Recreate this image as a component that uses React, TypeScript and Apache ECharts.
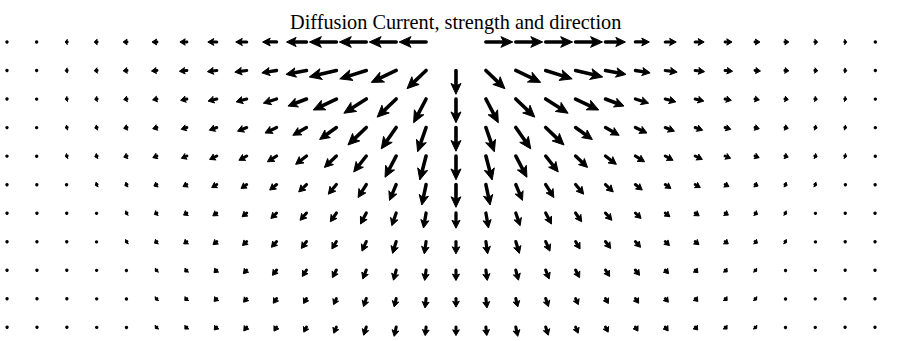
import React, { useEffect, useRef } from "react";
import * as echarts from "echarts";

// Horizontal grid positions (µm from the source) and depth positions.
const COLS = [
  -450, -420, -390, -360, -330, -300, -270, -240, -210, -180, -150, -120, -90, -60, -30,
  0, 30, 60, 90, 120, 150, 180, 210, 240, 270, 300, 330, 360, 390, 420,
];
const DEPTHS = [0, 30, 60, 90, 120, 150, 180, 210, 240, 270, 300];

// Current components per depth row (x component, then depth component).
const uRow0 = [-1, -1.5, -2, -3, -4, -5, -7, -9, -11, -14, -20, -27, -27, -27, -27, null, 27, 27, 27, 27, 20, 14, 11, 9, 7, 5, 4, 3, 2, 1.5];
const vRow0 = [0, 0, 0, 0, 0, 0, 0, 0, 0, 0, 0, 0, 0, 0, 0, null, 0, 0, 0, 0, 0, 0, 0, 0, 0, 0, 0, 0, 0, 0];
const uRow1 = [-1, -1.5, -2, -3, -4, -5.5, -7.5, -9.4, -11.9, -14.8, -20.6, -27.2, -26.6, -25, -19.1, 0, 19.1, 25, 26.6, 27.2, 20.6, 14.8, 11.9, 9.4, 7.5, 5.5, 4, 3, 2, 1.5];
const vRow1 = [0.07, 0.1, 0.15, 0.25, 0.36, 0.55, 0.8, 1.2, 1.7, 2.5, 4.1, 6.8, 8.8, 12.5, 19.1, 25, 19.1, 12.5, 8.8, 6.8, 4.1, 2.5, 1.7, 1.2, 0.8, 0.55, 0.36, 0.25, 0.15, 0.1];
const uRow2 = [-1, -1.5, -2, -2.5, -3.4, -4.4, -6.3, -8.7, -10.6, -13.3, -18.6, -23.2, -22.5, -19.1, -12.5, 0, 12.5, 19.1, 22.5, 23.2, 18.6, 13.3, 10.6, 8.7, 6.3, 4.4, 3.4, 2.5, 2, 1.5];
const vRow2 = [0.13, 0.2, 0.3, 0.4, 0.6, 0.9, 1.4, 2.2, 3, 4.4, 7.4, 11.6, 15, 19.1, 25, 25, 25, 19.1, 15, 11.6, 7.4, 4.4, 3, 2.2, 1.4, 0.9, 0.6, 0.4, 0.3, 0.2];
const uRow3 = [-1, -1.5, -1.9, -2.4, -3.4, -4.3, -5.7, -7.5, -9.2, -11.6, -13.7, -16.8, -18.4, -15, -8.5, 0, 8.5, 15, 18.4, 16.8, 13.7, 11.6, 9.2, 7.5, 5.7, 4.3, 3.4, 2.4, 1.9, 1.5];
const vRow3 = [0.2, 0.3, 0.45, 0.6, 0.9, 1.3, 1.9, 2.8, 3.9, 5.8, 8.2, 12.6, 18.4, 22.5, 25.6, 25, 25.6, 22.5, 18.4, 12.6, 8.2, 5.8, 3.9, 2.8, 1.9, 1.3, 0.9, 0.6, 0.45, 0.3];
const uRow4 = [-1, -1.4, -1.9, -2.4, -3.3, -4.2, -5.5, -7.2, -7.8, -9.2, -10.9, -12, -12.6, -11.2, -6.3, 0, 6.3, 11.2, 12.6, 12, 10.9, 9.2, 7.8, 7.2, 5.5, 4.2, 3.3, 2.4, 1.9, 1.4];
const vRow4 = [0.26, 0.4, 0.6, 0.8, 1.2, 1.7, 2.4, 3.6, 4.5, 6.1, 8.8, 12, 16.8, 22.4, 25.2, 25, 25.2, 22.4, 16.8, 12, 8.8, 6.1, 4.5, 3.6, 2.4, 1.7, 1.2, 0.8, 0.6, 0.4];
const uRow5 = [-0.95, -1.1, -1.4, -1.8, -2.3, -3.1, -3.9, -5.1, -5.7, -6.9, -7.8, -8.1, -8.2, -6.7, -4.3, 0, 4.3, 6.7, 8.2, 8.1, 7.8, 6.9, 5.7, 5.1, 3.9, 3.1, 2.3, 1.8, 1.4, 1.1];
const vRow5 = [0.32, 0.4, 0.54, 0.8, 1, 1.6, 2.2, 3.2, 4.1, 5.8, 7.8, 10.2, 13.7, 16.7, 21.6, 24, 21.6, 16.7, 13.7, 10.2, 7.8, 5.8, 4.1, 3.2, 2.2, 1.6, 1, 0.8, 0.54, 0.4];
const uRow6 = [-0.9, -0.9, -1.1, -1.3, -1.8, -2.6, -3.3, -4, -4.6, -5.7, -6.4, -6.1, -5.8, -4.4, -2.6, 0, 2.6, 4.4, 5.8, 6.1, 6.4, 5.7, 4.6, 4, 3.3, 2.6, 1.8, 1.3, 1.1, 0.9];
const vRow6 = [0.37, 0.4, 0.5, 0.7, 1, 1.5, 2.2, 3, 3.9, 5.7, 7.7, 9.2, 11.6, 13.3, 15.8, 16, 15.8, 13.3, 11.6, 9.2, 7.7, 5.7, 3.9, 3, 2.2, 1.5, 1, 0.7, 0.5, 0.4];
const uRow7 = [-0.9, -0.9, -1.06, -1.3, -1.7, -2.5, -3.2, -3.8, -4.2, -5.2, -5.2, -4.5, -4.3, -3.6, -1.8, 0, 1.8, 3.6, 4.3, 4.5, 5.2, 5.2, 4.2, 3.8, 3.2, 2.5, 1.7, 1.3, 1.06, 0.9];
const vRow7 = [0.42, 0.45, 0.57, 0.76, 1.1, 1.7, 2.5, 3.3, 4.2, 6.1, 7.3, 7.8, 10.1, 12.5, 12.9, 13, 12.9, 12.5, 10.1, 7.8, 7.3, 6.1, 4.2, 3.3, 2.5, 1.7, 1.1, 0.76, 0.57, 0.45];
const uRow8 = [-0.88, -0.87, -0.94, -1.1, -1.3, -1.7, -2.2, -2.8, -3.3, -4.2, -4.2, -4, -3.5, -2.7, -1.4, 0, 1.4, 2.7, 3.5, 4, 4.2, 4.2, 3.3, 2.8, 2.2, 1.7, 1.3, 1.1, 0.94, 0.87];
const vRow8 = [0.47, 0.5, 0.58, 0.72, 0.94, 1.4, 2, 2.8, 3.8, 5.6, 6.8, 8, 9.4, 10.7, 10.9, 11, 10.9, 10.7, 9.4, 8, 6.8, 5.6, 3.8, 2.8, 2, 1.4, 0.94, 0.72, 0.58, 0.5];
const uRow9 = [-0.86, -0.84, -0.82, -0.96, -1.24, -1.6, -2.1, -2.7, -3.1, -3.3, -2.9, -2.8, -2.8, -2, -1.1, 0, 1.1, 2, 2.8, 2.8, 2.9, 3.3, 3.1, 2.7, 2.1, 1.6, 1.24, 0.96, 0.82, 0.84];
const vRow9 = [0.51, 0.54, 0.57, 0.72, 1, 1.5, 2.1, 3, 3.9, 5, 5.2, 6.4, 8.5, 8.8, 9.9, 9, 9.9, 8.8, 8.5, 6.4, 5.2, 5, 3.9, 3, 2.1, 1.5, 1, 0.72, 0.57, 0.54];
const uRow10 = [-0.83, -0.81, -0.79, -0.92, -1.2, -1.6, -2, -2.5, -2.9, -2.6, -2.7, -2.6, -2.6, -2, -0.9, 0, 0.9, 2, 2.6, 2.6, 2.7, 2.6, 2.9, 2.5, 2, 1.6, 1.2, 0.92, 0.79, 0.81];
const vRow10 = [0.56, 0.58, 0.61, 0.77, 1.1, 1.6, 2.2, 3.1, 4.1, 4.3, 5.4, 6.5, 8.6, 9.8, 9, 9, 9, 9.8, 8.6, 6.5, 5.4, 4.3, 4.1, 3.1, 2.2, 1.6, 1.1, 0.77, 0.61, 0.58];

const U_ROWS = [uRow0, uRow1, uRow2, uRow3, uRow4, uRow5, uRow6, uRow7, uRow8, uRow9, uRow10];
const V_ROWS = [vRow0, vRow1, vRow2, vRow3, vRow4, vRow5, vRow6, vRow7, vRow8, vRow9, vRow10];

const TITLE = "Diffusion Current, strength and direction";

function buildData() {
  const out: number[][] = [];
  DEPTHS.forEach((y, j) => {
    COLS.forEach((x, i) => {
      const u = U_ROWS[j][i];
      const v = V_ROWS[j][i];
      if (u == null || v == null) return;
      out.push([x, y, u, v]);
    });
  });
  return out;
}

// Draws one arrow: tail at the grid point, tip at point + (u, v).
function renderArrow(params: any, api: any) {
  const x = api.value(0);
  const y = api.value(1);
  const u = api.value(2);
  const v = api.value(3);
  const p0 = api.coord([x, y]);
  const p1 = api.coord([x + u, y + v]);
  const dx = p1[0] - p0[0];
  const dy = p1[1] - p0[1];
  const L = Math.hypot(dx, dy);
  if (L < 1.6) {
    return {
      type: "circle",
      shape: { cx: p0[0] + dx / 2, cy: p0[1] + dy / 2, r: 1.7 },
      style: { fill: "#000" },
      silent: true,
    };
  }
  const ux = dx / L;
  const uy = dy / L;
  const px = -uy;
  const py = ux;
  const headLen = Math.min(L, 3 + 0.33 * L);
  const halfW = 2.4 + 0.11 * L;
  const bx = p1[0] - ux * headLen;
  const by = p1[1] - uy * headLen;
  const nx = p1[0] - ux * headLen * 0.75;
  const ny = p1[1] - uy * headLen * 0.75;
  const lw = Math.min(3.6, 2.7 + 0.04 * L);
  return {
    type: "group",
    silent: true,
    children: [
      {
        type: "line",
        shape: { x1: p0[0], y1: p0[1], x2: nx, y2: ny },
        style: { stroke: "#000", lineWidth: lw, lineCap: "round" },
      },
      {
        type: "polygon",
        shape: {
          points: [
            [p1[0], p1[1]],
            [bx + px * halfW, by + py * halfW],
            [nx, ny],
            [bx - px * halfW, by - py * halfW],
          ],
        },
        style: { fill: "#000", stroke: "#000", lineWidth: 1, lineJoin: "round" },
      },
    ],
  };
}

export default function App() {
  const ref = useRef<HTMLDivElement>(null);

  useEffect(() => {
    if (!ref.current) return;
    const chart = echarts.init(ref.current, null, { renderer: "svg" });
    chart.setOption({
      animation: false,
      backgroundColor: "#fff",
      title: {
        text: TITLE,
        left: 290,
        top: 12,
        padding: 0,
        textStyle: {
          fontFamily: "'Liberation Serif', 'Times New Roman', serif",
          fontWeight: "normal",
          fontSize: 20.3,
          color: "#000",
        },
      },
      grid: { left: 0, right: 0, top: 0, bottom: 0 },
      xAxis: { type: "value", min: -457.5, max: 447.5, show: false },
      yAxis: { type: "value", inverse: true, min: -44.2, max: 314.7, show: false },
      series: [
        {
          type: "custom",
          coordinateSystem: "cartesian2d",
          renderItem: renderArrow,
          data: buildData(),
        },
      ],
    });
    return () => chart.dispose();
  }, []);

  return (
    <div
      ref={ref}
      style={{ position: "fixed", left: 0, top: 0, width: 902, height: 341 }}
    />
  );
}
